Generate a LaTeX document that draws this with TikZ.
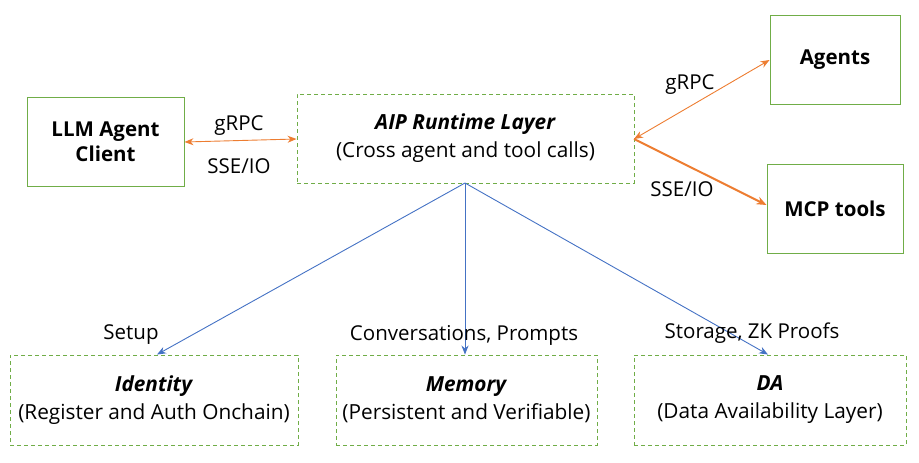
\documentclass[tikz,border=0pt]{standalone}
\usepackage{fontspec}
\setmainfont{Open Sans}
\usetikzlibrary{arrows.meta}
\definecolor{boxgreen}{RGB}{112,173,71}
\definecolor{arrorange}{RGB}{237,125,49}
\definecolor{arrblue}{RGB}{68,114,196}
\tikzset{
  solidbox/.style={draw=boxgreen, line width=1pt, align=center, inner sep=0pt, font=\fontsize{20.5}{25}\selectfont\bfseries},
  dashbox/.style={draw=boxgreen, line width=0.9pt, dash pattern=on 4pt off 3pt, align=center, inner sep=0pt, font=\fontsize{20.8}{28}\selectfont},
  lbl/.style={font=\fontsize{20.5}{24}\selectfont, inner sep=0pt},
  orangearr/.style={draw=arrorange, line width=0.9pt},
  bluearr/.style={draw=arrblue, line width=0.9pt, -{Stealth[length=9pt,width=7pt]}},
}
\begin{document}
\begin{tikzpicture}[x=1pt,y=-1pt]
\useasboundingbox (0,0) rectangle (919,463);
\node[solidbox, minimum width=157pt, minimum height=89pt] (llm) at (105.5,141.5) {LLM Agent\\Client};
\node[dashbox, minimum width=337pt, minimum height=89pt] (aip) at (465.5,138.5) {\textit{\bfseries AIP Runtime Layer}\\(Cross agent and tool calls)};
\node[solidbox, minimum width=130pt, minimum height=89pt] (agents) at (835,59.5) {Agents};
\node[solidbox, minimum width=136pt, minimum height=89pt] (mcp) at (835,208.5) {MCP tools};
\node[dashbox, minimum width=288pt, minimum height=90pt] (id) at (154,400) {\textit{\bfseries Identity}\\(Register and Auth Onchain)};
\node[dashbox, minimum width=261pt, minimum height=90pt] (mem) at (466.5,400) {\textit{\bfseries Memory}\\(Persistent and Verifiable)};
\node[dashbox, minimum width=272pt, minimum height=90pt] (da) at (770,400) {\textit{\bfseries DA}\\(Data Availability Layer)};

\coordinate (aipb) at (465,183);
\coordinate (aipr) at (634,139);
\draw[orangearr, {Stealth[length=9pt,width=7pt]}-{Stealth[length=9pt,width=7pt]}] (llm.east |- 0,142) -- (aip.west |- 0,139);
\draw[orangearr, {Stealth[length=9pt,width=7pt]}-{Stealth[length=9pt,width=7pt]}] (aipr) -- (agents.west |- 0,60);
\draw[orangearr, line width=2pt, -{Stealth[length=10pt,width=8pt]}] (aipr) -- (mcp.west |- 0,205);
\draw[bluearr] (aipb) -- (id.north -| 157,0);
\draw[bluearr] (aipb) -- (mem.north -| 465,0);
\draw[bluearr] (aipb) -- (da.north -| 768,0);

\node[lbl] (l1) at (239,126) {gRPC};
\node[lbl] (l2) at (239,166) {SSE/IO};
\node[lbl] (l3) at (690,85) {gRPC};
\node[lbl] (l4) at (682,189) {SSE/IO};
\node[lbl] (l5) at (131,335) {Setup};
\node[lbl] (l6) at (464,335) {Conversations, Prompts};
\node[lbl] (l7) at (752,333) {Storage, ZK Proofs};
\end{tikzpicture}
\end{document}
